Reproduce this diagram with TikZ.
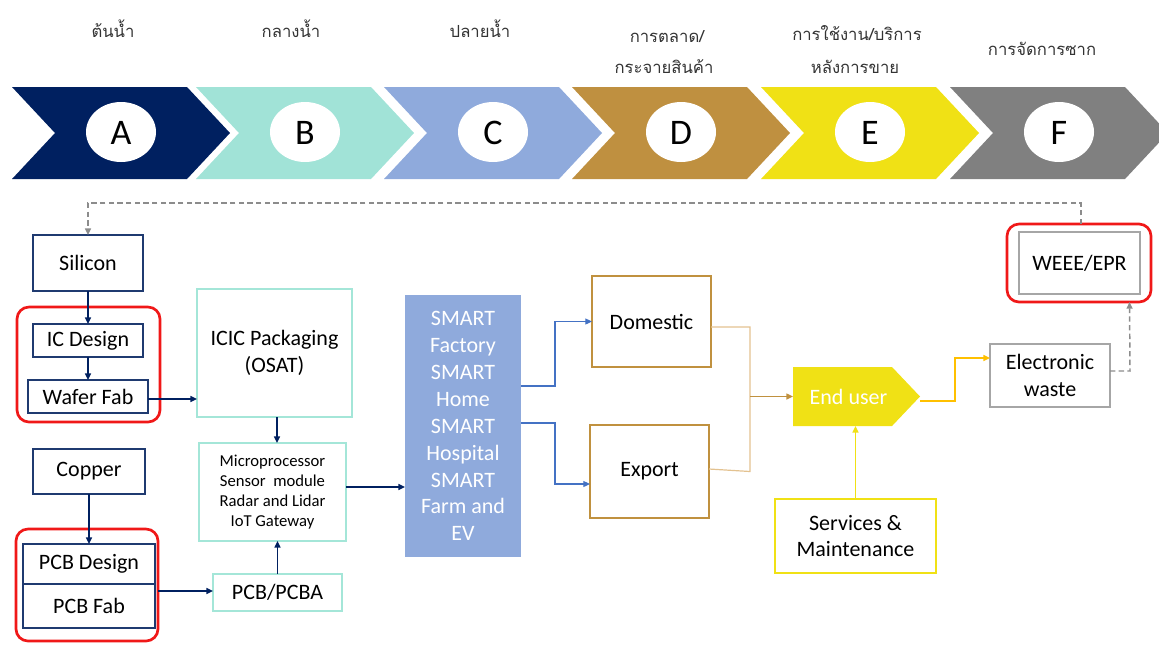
\documentclass[tikz,border=0pt]{standalone}
\usepackage{fontspec}
\setmainfont{Carlito}
\newfontfamily\thaifont[Script=Thai]{Loma}
\usetikzlibrary{arrows.meta,calc}

\definecolor{navy}{HTML}{002060}
\definecolor{navyline}{HTML}{1F3A70}
\definecolor{stageB}{HTML}{A1E3D7}
\definecolor{stageC}{HTML}{8FAADC}
\definecolor{stageD}{HTML}{BF9040}
\definecolor{stageE}{HTML}{F0E115}
\definecolor{stageF}{HTML}{808080}
\definecolor{tealline}{HTML}{A4E6D8}
\definecolor{goldline}{HTML}{C0913F}
\definecolor{goldlight}{HTML}{E3C290}
\definecolor{bluelink}{HTML}{4472C4}
\definecolor{orangelink}{HTML}{FFC000}
\definecolor{greyline}{HTML}{A6A6A6}
\definecolor{dashgrey}{HTML}{8C8C8C}
\definecolor{redring}{HTML}{F01818}

\begin{document}
\begin{tikzpicture}[x=0.75pt,y=-0.75pt,
  every node/.style={outer sep=0pt, inner sep=0pt, align=center},
  boxtxt/.style={font=\fontsize{16.5pt}{20pt}\selectfont},
  navybox/.style={boxtxt, draw=navyline, line width=2pt},
  tealbox/.style={boxtxt, draw=tealline, line width=1.8pt},
  goldbox/.style={boxtxt, draw=goldline, line width=2.2pt},
  greybox/.style={boxtxt, draw=greyline, line width=2.2pt},
  yellowbox/.style={boxtxt, draw=stageE, line width=2pt},
  redring/.style={draw=redring, line width=2pt, rounded corners=9pt},
  headtxt/.style={font=\thaifont\fontsize{12.5pt}{19pt}\selectfont, text=black!80},
  tip/.style={-{Triangle[length=5pt,width=4.5pt]}},
  navyarrow/.style={tip, draw=navy, line width=1.1pt},
  bluearrow/.style={tip, draw=bluelink, line width=0.8pt},
  dasharrow/.style={tip, draw=dashgrey, line width=1.1pt, dash pattern=on 4pt off 2.5pt},
]
\useasboundingbox (0,0) rectangle (1159,644);

% ---------- value chain stages ----------
\foreach \xo/\col/\lbl in {12/navy/A, 196/stageB/B, 384/stageC/C, 572/stageD/D, 761/stageE/E, 950/stageF/F}{
  \fill[\col] (\xo,87) -- ++(175,0) -- ++(43,46) -- ++(-43,46) -- ++(-175,0) -- ++(43,-46) -- cycle;
  \fill[white] (\xo+109,132) ellipse [x radius=35, y radius=30];
  \node[font=\fontsize{27pt}{27pt}\selectfont] (stage\lbl) at (\xo+109,133) {\lbl};
}

% ---------- stage headings ----------
\node[headtxt] (hA) at (113,29) {ต้นน้ำ};
\node[headtxt] (hB) at (291,29) {กลางน้ำ};
\node[headtxt] (hC) at (480,29) {ปลายน้ำ};
\node[headtxt] (hD1) at (667,37) {การตลาด/};
\node[headtxt] (hD2) at (664,67) {กระจายสินค้า};
\node[headtxt] (hE1) at (857,33) {การใช้งาน/บริการ};
\node[headtxt] (hE2) at (855,67) {หลังการขาย};
\node[headtxt] (hF) at (1042,49) {การจัดการซาก};

% ---------- upstream: silicon chain ----------
\node[redring, minimum width=107.25pt, minimum height=86.25pt] (ring1) at (88.5,364.5) {};
\node[navybox, minimum width=82.5pt, minimum height=42pt] (silicon) at (88,263) {Silicon};
\node[navybox, minimum width=82.5pt, minimum height=24.75pt] (icd) at (88,340.5) {IC Design};
\node[navybox, minimum width=90pt, minimum height=24.75pt] (wfab) at (88,396.5) {Wafer Fab};

% ---------- upstream: copper chain ----------
\node[redring, minimum width=106.5pt, minimum height=84pt] (ring2) at (87,585) {};
\node[navybox, minimum width=84pt, minimum height=33.75pt] (copper) at (89,471.5) {Copper};
\node[navybox, minimum width=99pt, minimum height=30pt] (pcbd) at (89,564) {PCB Design};
\node[navybox, minimum width=99pt, minimum height=33pt] (pcbf) at (89,606) {PCB Fab};

% ---------- midstream ----------
\node[tealbox, minimum width=116.25pt, minimum height=96pt] (icic) at (274.5,353) {ICIC Packaging\\(OSAT)};
\node[tealbox, font=\fontsize{12.5pt}{15pt}\selectfont, minimum width=110.25pt, minimum height=73.5pt]
  (micro) at (272.5,492) {Microprocessor\\Sensor\ \ module\\Radar and Lidar\\IoT Gateway};
\node[tealbox, minimum width=96.75pt, minimum height=27.75pt] (pcba) at (277.5,592.5) {PCB/PCBA};

% ---------- downstream ----------
\node[boxtxt, fill=stageC, text=white, font=\fontsize{16.5pt}{20.2pt}\selectfont,
  minimum width=87pt, minimum height=196.5pt] (smart) at (463,426)
  {SMART\\Factory\\SMART\\Home\\SMART\\Hospital\\SMART\\Farm and\\EV};

% ---------- distribution ----------
\node[goldbox, minimum width=89.25pt, minimum height=68.25pt] (dom) at (651.5,321.5) {Domestic};
\node[goldbox, minimum width=89.25pt, minimum height=69.75pt] (exp) at (649.5,471.5) {Export};

% ---------- use / service ----------
\fill[stageE] (793,367) -- (892,367) -- (920,396.5) -- (892,426) -- (793,426) -- cycle;
\node[boxtxt, text=white, minimum width=95.25pt, minimum height=44.25pt] (eu) at (856.5,396.5) {\hspace*{-12pt}End user};
\node[yellowbox, minimum width=120.75pt, minimum height=55.5pt] (svc) at (855.5,536) {Services \&\\Maintenance};

% ---------- end of life ----------
\node[greybox, minimum width=90pt, minimum height=47.25pt] (ewaste) at (1050,375.5) {Electronic\\waste};
\node[redring, minimum width=108pt, minimum height=58.5pt] (ring3) at (1079,263) {};
\node[greybox, minimum width=90.75pt, minimum height=46.5pt] (weee) at (1079.5,263) {WEEE/EPR};

% ---------- connectors ----------
\draw[navyarrow] (silicon.south) -- (icd.north);
\draw[navyarrow] (icd.south) -- (wfab.north);
\draw[navyarrow] ($(wfab.east)+(0,2.5)$) -- ($(icic.west |- wfab.east)+(0,2.5)$);
\draw[navyarrow] ($(icic.south)+(2.5,0)$) -- ($(micro.north)+(4.5,0)$);
\draw[navyarrow] (copper.south) -- (copper.south |- pcbd.north);
\draw[navyarrow] ($(ring2.east |- pcba.west)+(0,-1.5)$) -- ($(pcba.west)+(0,-1.5)$);
\draw[navyarrow] (pcba.north) -- (pcba.north |- micro.south);
\draw[navyarrow] ($(micro.east)+(0,-5)$) -- ($(smart.west |- micro.east)+(0,-5)$);

\draw[bluearrow] ($(smart.east)+(0,-40)$) -- ++(34,0) |- (dom.west);
\draw[bluearrow] ($(smart.east)+(0,-3)$) -- ++(34,0) |- ($(exp.west)+(0,12.5)$);

\coordinate (merge) at ($(dom.east)+(39,0)$);
\draw[goldlight, line width=0.9pt] ($(dom.east)+(0,5.5)$) -| (merge |- exp.east) -- ($(exp.east)+(0,-2.5)$);
\draw[tip, draw=goldline, line width=1pt] (merge |- eu.west) -- (eu.west);

\draw[tip, draw=orangelink, line width=1.1pt] ($(eu.east)+(0,4.5)$) -- ++(35,0) |- ($(ewaste.west)+(0,-17.5)$);
\draw[dasharrow] ($(ewaste.east)+(0,-4.5)$) -- ++(20,0) -- ($(ring3.south)+(50.5,0)$);
\draw[dasharrow] ($(ring3.north)+(2,0)$) -- ++(0,-21) -| (silicon.north);
\draw[tip, draw=stageE, line width=1.1pt] (svc.north) -- (svc.north |- eu.south);

\end{tikzpicture}
\end{document}
